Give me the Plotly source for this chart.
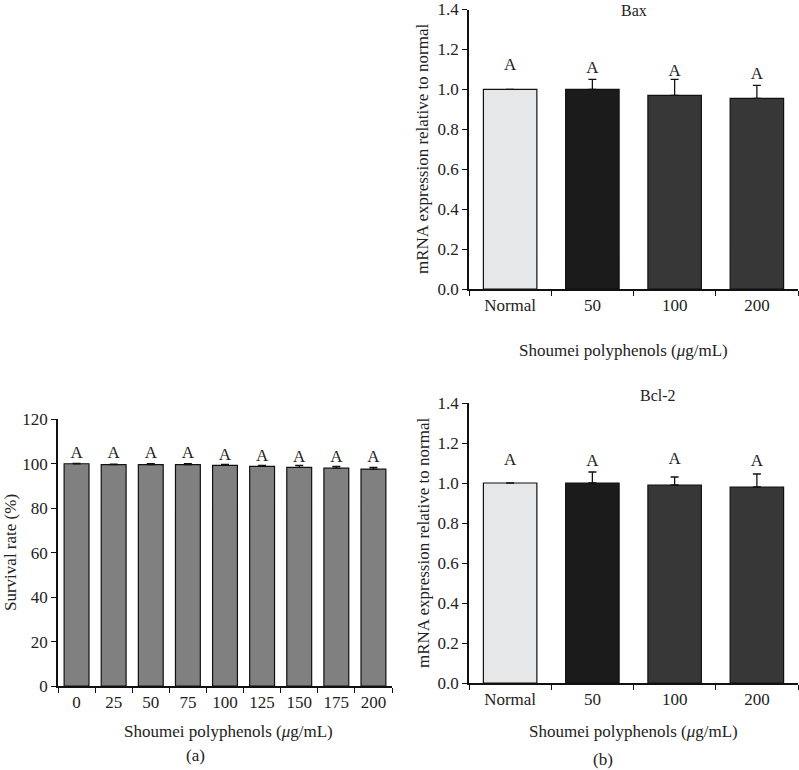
import plotly.graph_objects as go

# ---------------- data ----------------
conc_labels = ["0", "25", "50", "75", "100", "125", "150", "175", "200"]
survival = [100.0, 99.6, 99.6, 99.6, 99.3, 98.8, 98.4, 98.0, 97.6]
survival_err = [0.2, 0.2, 0.4, 0.4, 0.4, 0.5, 0.9, 0.8, 0.8]
survival_letters = ["A"] * 9
survival_letter_y = [104.7, 104.7, 104.7, 104.3, 103.5, 103.2, 102.7, 102.5, 102.5]

group_labels = ["Normal", "50", "100", "200"]
bax = [1.0, 1.0, 0.97, 0.955]
bax_err = [0.0, 0.05, 0.08, 0.065]
bax_letters = ["A", "A", "A", "A"]
bax_letter_y = [1.12, 1.105, 1.09, 1.075]

bcl2 = [1.0, 1.0, 0.99, 0.98]
bcl2_err = [0.0, 0.055, 0.04, 0.065]
bcl2_letters = ["A", "A", "A", "A"]
bcl2_letter_y = [1.11, 1.107, 1.115, 1.105]

group_colors = ["#e6e7e9", "#1b1b1b", "#373737", "#373737"]

FONT = "Liberation Serif"
W, H = 799, 770

def px_x(p):
    return p / W

def px_y(p):
    return 1 - p / H

fig = go.Figure()

def add_bars(x, y, err, colors, xa, ya, width):
    fig.add_trace(go.Bar(
        x=x, y=y, xaxis=xa, yaxis=ya, width=width,
        marker=dict(color=colors, line=dict(color="#111111", width=1.2)),
        error_y=dict(type="data", array=err, arrayminus=[0] * len(err),
                     symmetric=False, color="#111111", thickness=1.3, width=4),
        showlegend=False, hoverinfo="x+y",
    ))

def add_letters(x, ly, letters, xa, ya):
    fig.add_trace(go.Scatter(
        x=x, y=ly, xaxis=xa, yaxis=ya, mode="text", text=letters,
        textposition="middle center",
        textfont=dict(family=FONT, size=17, color="#222"),
        showlegend=False, hoverinfo="skip",
    ))

add_bars(conc_labels, survival, survival_err, "#808080", "x", "y", 0.67)
add_letters(conc_labels, survival_letter_y, survival_letters, "x", "y")

add_bars(group_labels, bax, bax_err, group_colors, "x2", "y2", 0.65)
add_letters(group_labels, bax_letter_y, bax_letters, "x2", "y2")

add_bars(group_labels, bcl2, bcl2_err, group_colors, "x3", "y3", 0.65)
add_letters(group_labels, bcl2_letter_y, bcl2_letters, "x3", "y3")

axis_common = dict(showline=True, linecolor="#111111", linewidth=1.5, showgrid=False,
                   zeroline=False, ticks="outside", ticklen=5, tickwidth=1.2,
                   tickcolor="#111111", automargin=False,
                   tickfont=dict(family=FONT, size=17, color="#222"))

fig.update_layout(
    width=W, height=H, margin=dict(l=0, r=0, t=0, b=0, autoexpand=False),
    paper_bgcolor="white", plot_bgcolor="white",
    xaxis=dict(domain=[px_x(58), px_x(392)], anchor="y", type="category",
               tickson="boundaries", range=[-0.5, 8.5], **axis_common),
    yaxis=dict(domain=[px_y(686), px_y(419.3)], anchor="x", range=[0, 120],
               tickvals=[0, 20, 40, 60, 80, 100, 120], **axis_common),
    xaxis2=dict(domain=[px_x(469), px_x(798)], anchor="y2", type="category",
                tickson="boundaries", range=[-0.5, 3.5], **axis_common),
    yaxis2=dict(domain=[px_y(289), px_y(9.5)], anchor="x2", range=[0, 1.4],
                tickvals=[0, 0.2, 0.4, 0.6, 0.8, 1.0, 1.2, 1.4], tickformat=".1f",
                **axis_common),
    xaxis3=dict(domain=[px_x(469), px_x(798)], anchor="y3", type="category",
                tickson="boundaries", range=[-0.5, 3.5], **axis_common),
    yaxis3=dict(domain=[px_y(683), px_y(403)], anchor="x3", range=[0, 1.4],
                tickvals=[0, 0.2, 0.4, 0.6, 0.8, 1.0, 1.2, 1.4], tickformat=".1f",
                **axis_common),
)

def text(x, y, t, size=17, angle=0):
    fig.add_annotation(x=px_x(x), y=px_y(y), xref="paper", yref="paper", text=t,
                       showarrow=False, textangle=angle,
                       font=dict(family=FONT, size=size, color="#222"),
                       xanchor="center", yanchor="middle")

xt = "Shoumei polyphenols (<i>μ</i>g/mL)"
text(228, 731, xt)
text(623, 350, xt)
text(633, 731, xt)
text(10, 553, "Survival rate (%)", angle=-90)
text(422, 148, "mRNA expression relative to normal", angle=-90)
text(423, 543, "mRNA expression relative to normal", angle=-90)
text(634, 10, "Bax", size=16)
text(658, 395, "Bcl-2", size=16)
text(195, 755, "(a)")
text(603, 759, "(b)")

fig.write_html("out.html", config={"displayModeBar": False},
               post_script="document.body.style.margin='0';document.body.style.overflow='hidden';")
